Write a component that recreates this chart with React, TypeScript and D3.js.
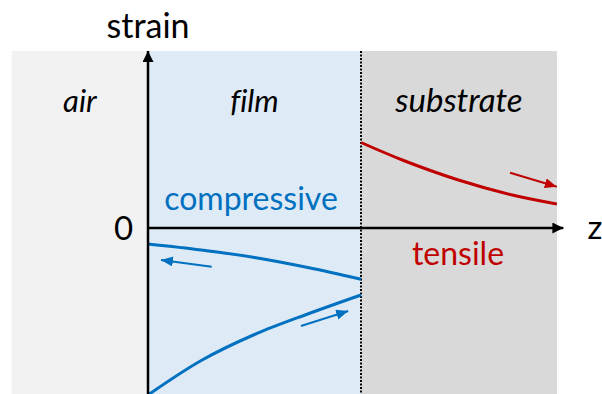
import React from "react";
import * as d3 from "d3";

// Regions along z (film thickness = 100 units)
const regionNames = ["air", "film", "substrate"];
const regionStart = [-64, 0, 100];
const regionEnd = [0, 100, 192];

// Strain profiles (strain units: 1 = 100 px)
const substrateZ = [100, 120, 145, 170, 192];
const substrateStrain = [0.855, 0.675, 0.485, 0.335, 0.24];

const filmUpperZ = [0, 25, 50, 75, 100];
const filmUpperStrain = [-0.16, -0.22, -0.295, -0.395, -0.513];

const filmLowerZ = [0, 25, 50, 75, 100];
const filmLowerStrain = [-1.67, -1.325, -1.065, -0.86, -0.67];

// Direction arrows: [zTail, sTail, zTip, sTip]
const arrowRed = [170, 0.553, 191.9, 0.413];
const arrowBlueLeft = [29.9, -0.387, 6.1, -0.32];
const arrowBlueRight = [71.8, -0.98, 94, -0.83];

const zAxisEnd = 195;

export default function App() {
  const W = 602;
  const H = 394;
  const x = d3.scaleLinear().domain([0, 100]).range([148, 361]);
  const y = d3.scaleLinear().domain([0, 1]).range([228, 128]);
  const top = 51;

  const bg = ["#f2f2f2", "#deebf7", "#d9d9d9"];
  const blue = "#0070c0";
  const red = "#c00000";
  const font = "Lato, 'Open Sans', sans-serif";
  const noLig = { fontVariantLigatures: "none", fontFeatureSettings: "'liga' 0" } as React.CSSProperties;

  const line = d3
    .line<[number, number]>()
    .x((d) => x(d[0]))
    .y((d) => y(d[1]))
    .curve(d3.curveCatmullRom);

  const pts = (zs: number[], ss: number[]) => zs.map((z, i) => [z, ss[i]] as [number, number]);

  const arrow = (a: number[], color: string, id: string) => (
    <line
      x1={x(a[0])}
      y1={y(a[1])}
      x2={x(a[2])}
      y2={y(a[3])}
      stroke={color}
      strokeWidth={2}
      markerEnd={`url(#${id})`}
    />
  );

  const labelSizes = [31, 31, 33];

  return (
    <svg
      width={W}
      height={H}
      style={{ position: "absolute", left: 0, top: 0, background: "#fff" }}
    >
      <defs>
        <marker id="mRed" markerUnits="userSpaceOnUse" markerWidth={14} markerHeight={12} refX={12} refY={5} orient="auto">
          <path d="M0,0 L12,5 L0,10 Z" fill={red} />
        </marker>
        <marker id="mBlue" markerUnits="userSpaceOnUse" markerWidth={14} markerHeight={12} refX={12} refY={5} orient="auto">
          <path d="M0,0 L12,5 L0,10 Z" fill={blue} />
        </marker>
        <marker id="mBlack" markerUnits="userSpaceOnUse" markerWidth={14} markerHeight={12} refX={11} refY={5.5} orient="auto">
          <path d="M0,0 L11,5.5 L0,11 Z" fill="#000" />
        </marker>
        <clipPath id="plotClip">
          <rect x={x(regionStart[0])} y={top} width={x(regionEnd[2]) - x(regionStart[0])} height={H - top} />
        </clipPath>
      </defs>

      {regionNames.map((n, i) => (
        <rect
          key={n}
          x={x(regionStart[i])}
          y={top}
          width={x(regionEnd[i]) - x(regionStart[i])}
          height={H - top}
          fill={bg[i]}
        />
      ))}

      {/* region labels */}
      {regionNames.map((n, i) => (
        <text
          key={"l" + n}
          x={(x(regionStart[i]) + x(regionEnd[i])) / 2}
          y={112}
          textAnchor="middle"
          fontFamily={font}
          fontStyle="italic"
          fontSize={labelSizes[i]}
          fill="#000"
          style={noLig}
        >
          {n}
        </text>
      ))}

      {/* interface dotted line */}
      <line x1={x(100)} y1={top} x2={x(100)} y2={H} stroke="#000" strokeWidth={2} strokeDasharray="2,1.5" />

      <g clipPath="url(#plotClip)">
        <path d={line(pts(substrateZ, substrateStrain)) || ""} fill="none" stroke={red} strokeWidth={3} />
        <path d={line(pts(filmUpperZ, filmUpperStrain)) || ""} fill="none" stroke={blue} strokeWidth={3} />
        <path d={line(pts(filmLowerZ, filmLowerStrain)) || ""} fill="none" stroke={blue} strokeWidth={3} />
      </g>

      {arrow(arrowRed, red, "mRed")}
      {arrow(arrowBlueLeft, blue, "mBlue")}
      {arrow(arrowBlueRight, blue, "mBlue")}

      {/* axes */}
      <line x1={x(0)} y1={H} x2={x(0)} y2={top} stroke="#000" strokeWidth={2.5} markerEnd="url(#mBlack)" />
      <line x1={x(0)} y1={y(0)} x2={x(zAxisEnd)} y2={y(0)} stroke="#000" strokeWidth={2.5} markerEnd="url(#mBlack)" />

      <text x={x(0)} y={38} textAnchor="middle" fontFamily={font} fontSize={34} fill="#000">
        strain
      </text>
      <text x={123.5} y={240} textAnchor="middle" fontFamily={font} fontSize={33} fill="#000">
        0
      </text>
      <text x={595} y={239} textAnchor="middle" fontFamily={font} fontSize={33} fill="#000">
        z
      </text>
      <text x={251} y={210} textAnchor="middle" fontFamily={font} fontSize={32} fill={blue}>
        compressive
      </text>
      <text x={458} y={265} textAnchor="middle" fontFamily={font} fontSize={32} fill={red}>
        tensile
      </text>
    </svg>
  );
}
